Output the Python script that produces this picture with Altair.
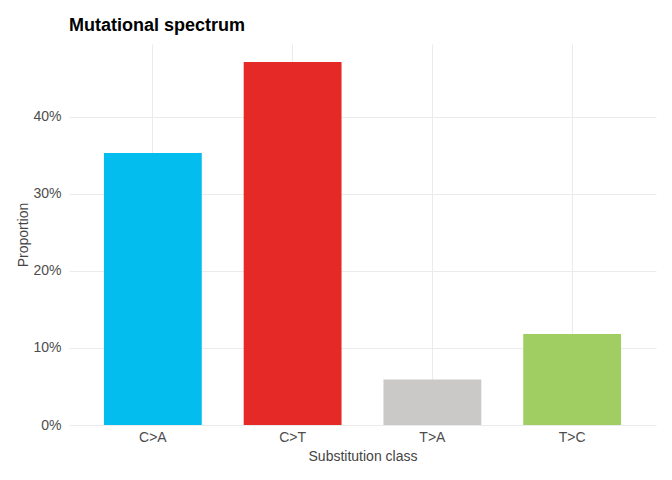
import altair as alt
import pandas as pd

classes = ["C>A", "C>T", "T>A", "T>C"]
proportions = [0.353, 0.471, 0.059, 0.118]
colors = ["#03BDEE", "#E42926", "#CBC9C8", "#A1CE63"]
y_ticks = [0, 0.1, 0.2, 0.3, 0.4]

df = pd.DataFrame({"cls": classes, "prop": proportions})

font = "Liberation Sans"

chart = alt.Chart(df).mark_bar().encode(
    x=alt.X(
        "cls:N",
        title="Substitution class",
        sort=classes,
        scale=alt.Scale(paddingInner=0.3, paddingOuter=0.25),
        axis=alt.Axis(
            labelAngle=0,
            bandPosition=0.5,
            grid=True,
            gridColor="#EBEBEB",
            gridWidth=1,
            domain=False,
            ticks=False,
            tickSize=0,
            labelPadding=5,
            labelFontSize=14,
            labelColor="#4D4D4D",
            labelFont=font,
            titleFont=font,
            titleFontSize=14,
            titleFontWeight="normal",
            titleColor="#444444",
            titlePadding=5,
        ),
    ),
    y=alt.Y(
        "prop:Q",
        title="Proportion",
        scale=alt.Scale(domain=[0, 0.4945], nice=False, zero=True),
        axis=alt.Axis(
            values=y_ticks,
            format=".0%",
            grid=True,
            gridColor="#EBEBEB",
            gridWidth=1,
            domain=False,
            ticks=False,
            tickSize=0,
            labelPadding=8,
            labelFontSize=14,
            labelColor="#4D4D4D",
            labelFont=font,
            titleFont=font,
            titleFontSize=14,
            titleFontWeight="normal",
            titleColor="#444444",
            titlePadding=2,
        ),
    ),
    color=alt.Color(
        "cls:N",
        scale=alt.Scale(domain=classes, range=colors),
        legend=None,
    ),
).properties(
    width=587,
    height=381,
    title=alt.TitleParams(
        "Mutational spectrum",
        anchor="start",
        frame="group",
        font=font,
        fontSize=18,
        fontWeight="bold",
        color="#000000",
        baseline="alphabetic",
        offset=-5,
    ),
    padding={"left": 61, "top": 36, "right": 8, "bottom": 40},
    autosize=alt.AutoSizeParams(type="none"),
).configure_view(stroke=None)

chart.save("out.html", embed_options={"renderer": "svg", "actions": False})
